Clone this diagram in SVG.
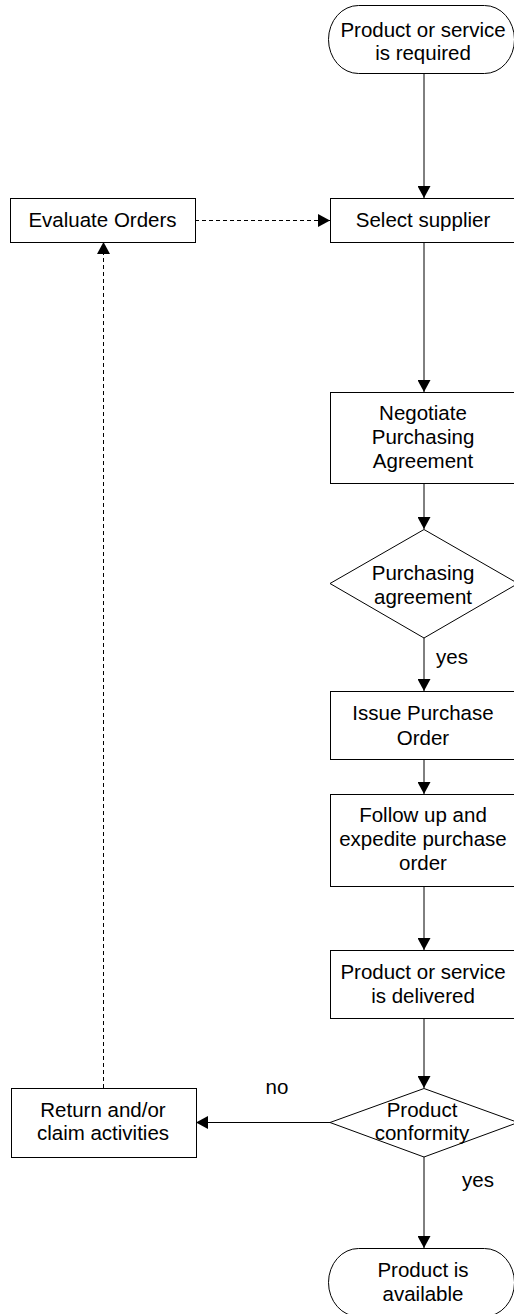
<svg xmlns="http://www.w3.org/2000/svg" width="514" height="1314" viewBox="0 0 514 1314">
<defs>
<marker id="ah" viewBox="0 0 12 13" refX="12" refY="6.5" markerWidth="12" markerHeight="13" markerUnits="userSpaceOnUse" orient="auto">
<path d="M0,0 L12,6.5 L0,13 Z" fill="#000"/>
</marker>
<style>
.s{fill:#fff;stroke:#000;stroke-width:1}
.t{font-family:"Liberation Sans",Arial,sans-serif;font-size:20.5px;fill:#000;text-anchor:middle}
.c{fill:none;stroke:#000;stroke-width:1;marker-end:url(#ah)}
.d{fill:none;stroke:#000;stroke-width:1;stroke-dasharray:4 3;marker-end:url(#ah)}
</style>
</defs>
<rect width="514" height="1314" fill="#fff"/>
<g id="connectors">
<line class="c" x1="424" y1="73" x2="424" y2="198"/>
<line class="c" x1="424" y1="242" x2="424" y2="392"/>
<line class="c" x1="424" y1="483" x2="424" y2="529"/>
<line class="c" x1="424" y1="638" x2="424" y2="691"/>
<line class="c" x1="424" y1="759" x2="424" y2="794"/>
<line class="c" x1="424" y1="886" x2="424" y2="950"/>
<line class="c" x1="424" y1="1018" x2="424" y2="1088"/>
<line class="c" x1="330" y1="1122.5" x2="196" y2="1122.5"/>
<line class="c" x1="424" y1="1157" x2="424" y2="1248"/>
<line class="d" x1="103.5" y1="1088" x2="103.5" y2="242"/>
<line class="d" x1="195" y1="220.5" x2="330" y2="220.5"/>
<text class="t" x="452" y="664">yes</text>
<text class="t" x="277" y="1094">no</text>
<text class="t" x="478" y="1187">yes</text>
</g>
<g id="start">
<rect class="s" x="328.5" y="5.5" width="186" height="68" rx="30" ry="34"/>
<text class="t" x="423" y="37">Product or service</text>
<text class="t" x="423" y="60">is required</text>
</g>
<g id="evaluate">
<rect class="s" x="10.5" y="198.5" width="185" height="44"/>
<text class="t" x="102.5" y="227">Evaluate Orders</text>
</g>
<g id="select">
<rect class="s" x="330.5" y="198.5" width="190" height="44"/>
<text class="t" x="423" y="227">Select supplier</text>
</g>
<g id="negotiate">
<rect class="s" x="330.5" y="392.5" width="190" height="91"/>
<text class="t" x="423" y="420">Negotiate</text>
<text class="t" x="423" y="444">Purchasing</text>
<text class="t" x="423" y="468">Agreement</text>
</g>
<g id="agreement">
<polygon class="s" points="424,529.5 518,583.5 424,638 330,583.5"/>
<text class="t" x="423" y="580">Purchasing</text>
<text class="t" x="423" y="604">agreement</text>
</g>
<g id="issue">
<rect class="s" x="330.5" y="691.5" width="190" height="68"/>
<text class="t" x="423" y="720">Issue Purchase</text>
<text class="t" x="423" y="745">Order</text>
</g>
<g id="follow">
<rect class="s" x="330.5" y="794.5" width="190" height="92"/>
<text class="t" x="423" y="822">Follow up and</text>
<text class="t" x="423" y="846">expedite purchase</text>
<text class="t" x="423" y="870">order</text>
</g>
<g id="delivered">
<rect class="s" x="330.5" y="950.5" width="190" height="68"/>
<text class="t" x="423" y="979">Product or service</text>
<text class="t" x="423" y="1003">is delivered</text>
</g>
<g id="conformity">
<polygon class="s" points="424,1088.5 518,1122.5 424,1157 330,1122.5"/>
<text class="t" x="422" y="1117">Product</text>
<text class="t" x="422" y="1140">conformity</text>
</g>
<g id="return">
<rect class="s" x="11.5" y="1088.5" width="185" height="69"/>
<text class="t" x="103" y="1117">Return and/or</text>
<text class="t" x="103" y="1140">claim activities</text>
</g>
<g id="end">
<rect class="s" x="328.5" y="1248.5" width="186" height="68" rx="30" ry="34"/>
<text class="t" x="423" y="1277">Product is</text>
<text class="t" x="423" y="1301">available</text>
</g>
</svg>
